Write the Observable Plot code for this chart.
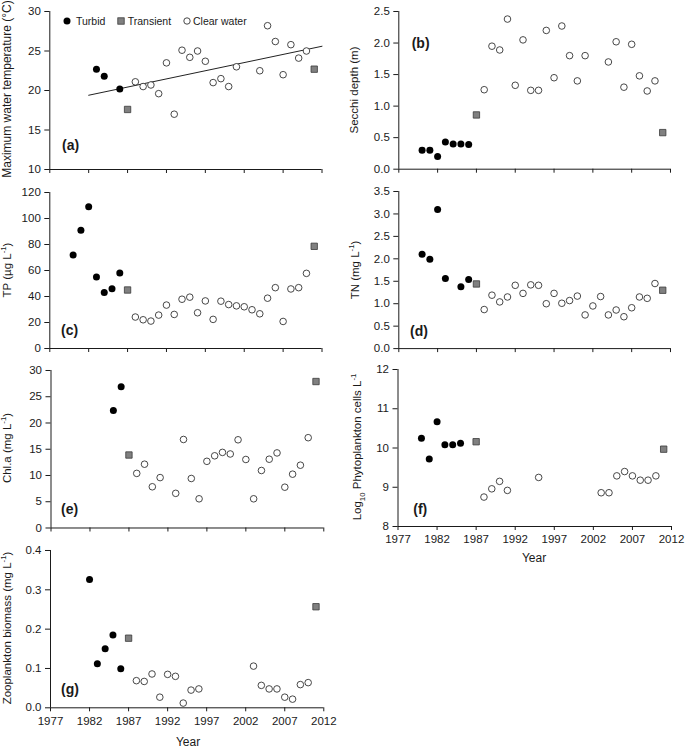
<!DOCTYPE html>
<html>
<head>
<meta charset="utf-8">
<script src="https://cdn.jsdelivr.net/npm/d3@7"></script>
<script src="https://cdn.jsdelivr.net/npm/@observablehq/plot@0.6"></script>
<style>
  body { margin: 0; background: #fff; }
  #root { position: relative; width: 685px; height: 750px; overflow: hidden;
          font-family: "Liberation Sans", Arial, sans-serif; color: #1a1a1a; }
  .panel { position: absolute; }
  .vlab { position: absolute; transform: translate(-50%, -50%) rotate(-90deg);
          white-space: nowrap; font-size: 11.5px; line-height: 1; }
  .vlab sup, .vlab sub { font-size: 0.68em; line-height: 0; }
  .letter { position: absolute; font-weight: bold; font-size: 14px; line-height: 1; white-space: nowrap; }
  .xlab { position: absolute; font-size: 12px; line-height: 1; transform: translateX(-50%); white-space: nowrap; }
  .leg { position: absolute; font-size: 10.5px; line-height: 1; white-space: nowrap; }
  .legsym { position: absolute; }
</style>
</head>
<body>
<div id="root"></div>
<script>
// ---------------- DATA ----------------
const statusNames = ["Turbid", "Transient", "Clear water"];
const transientYears = [1987, 2011];
const yearTicks = [1977, 1982, 1987, 1992, 1997, 2002, 2007, 2012];

// (a) Maximum water temperature (°C)
const tempYears = [1983,1984,1986,1987,1988,1989,1990,1991,1992,1993,1994,1995,1996,1997,1998,1999,2000,2001,2004,2005,2006,2007,2008,2009,2010,2011];
const tempValues = [22.7,21.8,20.2,17.6,21.1,20.5,20.7,19.6,23.5,17.0,25.1,24.2,25.0,23.7,21.0,21.5,20.5,23.0,22.5,28.2,26.2,22.0,25.8,24.1,25.0,22.7];
const tempTrendYears = [1982, 2012];
const tempTrendValues = [19.4, 25.6];

// (b) Secchi depth (m)
const secchiYears = [1980,1981,1982,1983,1984,1985,1986,1987,1988,1989,1990,1991,1992,1993,1994,1995,1996,1997,1998,1999,2000,2001,2004,2005,2006,2007,2008,2009,2010,2011];
const secchiValues = [0.30,0.30,0.20,0.43,0.40,0.40,0.39,0.86,1.26,1.95,1.89,2.38,1.33,2.05,1.25,1.25,2.20,1.45,2.27,1.80,1.40,1.80,1.70,2.02,1.30,1.98,1.48,1.24,1.40,0.58];

// (c) TP (µg L-1)
const tpYears = [1980,1981,1982,1983,1984,1985,1986,1987,1988,1989,1990,1991,1992,1993,1994,1995,1996,1997,1998,1999,2000,2001,2002,2003,2004,2005,2006,2007,2008,2009,2010,2011];
const tpValues = [72,91,109,55,43,46,58,45,24.2,22.1,21.1,25.7,33.4,26.2,37.9,39.5,27.5,36.6,22.4,36.4,33.8,32.8,32.1,29.8,26.7,38.7,46.8,20.8,45.8,46.8,57.8,78.6];

// (d) TN (mg L-1)
const tnYears = [1980,1981,1982,1983,1985,1986,1987,1988,1989,1990,1991,1992,1993,1994,1995,1996,1997,1998,1999,2000,2001,2002,2003,2004,2005,2006,2007,2008,2009,2010,2011];
const tnValues = [2.10,1.99,3.10,1.56,1.38,1.54,1.44,0.87,1.19,1.04,1.15,1.41,1.23,1.42,1.41,1.00,1.23,1.01,1.07,1.17,0.75,0.95,1.16,0.75,0.86,0.71,0.91,1.15,1.12,1.45,1.30];

// (e) Chl.a (mg L-1)
const chlYears = [1985,1986,1987,1988,1989,1990,1991,1993,1994,1995,1996,1997,1998,1999,2000,2001,2002,2003,2004,2005,2006,2007,2008,2009,2010,2011];
const chlValues = [22.4,26.9,13.9,10.4,12.15,7.85,9.6,6.6,16.86,9.43,5.56,12.7,13.75,14.4,14.1,16.8,13.05,5.56,10.95,13.1,14.3,7.77,10.25,11.96,17.2,27.9];

// (f) Log10 phytoplankton cells L-1
const phytoYears = [1980,1981,1982,1983,1984,1985,1987,1988,1989,1990,1991,1995,2003,2004,2005,2006,2007,2008,2009,2010,2011];
const phytoValues = [10.25,9.72,10.67,10.08,10.08,10.12,10.16,8.75,8.96,9.15,8.92,9.25,8.86,8.86,9.29,9.40,9.29,9.18,9.18,9.29,9.97];

// (g) Zooplankton biomass (mg L-1)
const zooYears = [1982,1983,1984,1985,1986,1987,1988,1989,1990,1991,1992,1993,1994,1995,1996,2003,2004,2005,2006,2007,2008,2009,2010,2011];
const zooValues = [0.326,0.112,0.150,0.185,0.099,0.177,0.069,0.067,0.086,0.027,0.085,0.080,0.012,0.045,0.048,0.106,0.057,0.048,0.048,0.027,0.022,0.059,0.064,0.257];

// ---------------- HELPERS ----------------
const fontFamily = '"Liberation Sans", Arial, sans-serif';
const axisColor = "#1a1a1a";
const root = document.getElementById("root");

function statusOf(year) {
  if (transientYears.includes(year)) return statusNames[1];
  return year < 1987 ? statusNames[0] : statusNames[2];
}
function rows(years, values) {
  return years.map((year, i) => ({year, value: values[i], status: statusOf(year)}));
}

function addPanel(cfg) {
  const {X0, X1, Y0, Y1, svgLeft, data, yDomain, yTicks, yFormat, showXLabels, trend, xPad} = cfg;
  const mt = 8, mr = 12, mb = showXLabels ? 30 : 8;
  const ml = X0 - svgLeft;
  const width = ml + (X1 - X0) + mr;
  const height = mt + (Y1 - Y0) + mb;
  const marks = [
    Plot.ruleX([1977], {stroke: axisColor, strokeWidth: 1}),
    Plot.ruleY([yDomain[0]], {stroke: axisColor, strokeWidth: 1})
  ];
  if (trend) marks.push(Plot.line(trend, {x: "year", y: "value", stroke: "#222", strokeWidth: 1}));
  marks.push(Plot.dot(data.filter(d => d.status === statusNames[2]),
    {x: "year", y: "value", r: 3.3, fill: "white", stroke: "#333", strokeWidth: 0.9}));
  marks.push(Plot.dot(data.filter(d => d.status === statusNames[1]),
    {x: "year", y: "value", r: 3.6, symbol: "square", fill: "#808080", stroke: "#3a3a3a", strokeWidth: 0.8}));
  marks.push(Plot.dot(data.filter(d => d.status === statusNames[0]),
    {x: "year", y: "value", r: 3.5, fill: "black", stroke: "none"}));
  const svg = Plot.plot({
    width, height,
    marginLeft: ml, marginRight: mr, marginTop: mt, marginBottom: mb,
    style: {fontFamily, fontSize: "11.5px", color: axisColor, background: "transparent", overflow: "visible"},
    x: {domain: [1977, 2012], ticks: yearTicks, tickSize: 4, tickPadding: xPad ?? 5,
        tickFormat: showXLabels ? d3.format("d") : () => "", label: null},
    y: {domain: yDomain, ticks: yTicks, tickSize: 5, tickPadding: 4, tickFormat: yFormat, label: null},
    marks
  });
  const wrap = document.createElement("div");
  wrap.className = "panel";
  wrap.style.left = svgLeft + "px";
  wrap.style.top = (Y0 - mt) + "px";
  wrap.appendChild(svg);
  root.appendChild(wrap);
}

function vlabel(html, cx, cy, size) {
  const d = document.createElement("div");
  d.className = "vlab"; d.innerHTML = html;
  d.style.left = cx + "px"; d.style.top = cy + "px";
  if (size) d.style.fontSize = size + "px";
  root.appendChild(d);
}
function letter(text, x, baseline) {
  const d = document.createElement("div");
  d.className = "letter"; d.textContent = text;
  d.style.left = x + "px"; d.style.top = (baseline - 11.6) + "px";
  root.appendChild(d);
}
function xlabel(text, cx, cy) {
  const d = document.createElement("div");
  d.className = "xlab"; d.textContent = text;
  d.style.left = cx + "px"; d.style.top = (cy - 6) + "px";
  root.appendChild(d);
}

const fmt1 = d3.format(".1f");
const fmt0 = d3.format("d");

// ---------------- PANELS ----------------
addPanel({X0: 49.3, X1: 321.5, Y0: 11, Y1: 169, svgLeft: 0,
  data: rows(tempYears, tempValues), yDomain: [10, 30], yTicks: [10, 15, 20, 25, 30], yFormat: fmt0,
  trend: rows(tempTrendYears, tempTrendValues)});
addPanel({X0: 398.3, X1: 670, Y0: 11, Y1: 168.7, svgLeft: 340,
  data: rows(secchiYears, secchiValues), yDomain: [0, 2.5], yTicks: [0, 0.5, 1, 1.5, 2, 2.5], yFormat: fmt1});
addPanel({X0: 49.3, X1: 321.5, Y0: 192, Y1: 348, svgLeft: 0,
  data: rows(tpYears, tpValues), yDomain: [0, 120], yTicks: [0, 20, 40, 60, 80, 100, 120], yFormat: fmt0});
addPanel({X0: 398.3, X1: 670, Y0: 191, Y1: 348.1, svgLeft: 340,
  data: rows(tnYears, tnValues), yDomain: [0, 3.5], yTicks: [0, 0.5, 1, 1.5, 2, 2.5, 3, 3.5], yFormat: fmt1});
addPanel({X0: 50.5, X1: 323.3, Y0: 370, Y1: 527.5, svgLeft: 0,
  data: rows(chlYears, chlValues), yDomain: [0, 30], yTicks: [0, 5, 10, 15, 20, 25, 30], yFormat: fmt0});
addPanel({X0: 397.5, X1: 671, Y0: 369, Y1: 526, svgLeft: 340,
  data: rows(phytoYears, phytoValues), yDomain: [8, 12], yTicks: [8, 9, 10, 11, 12], yFormat: fmt0,
  showXLabels: true, xPad: 4});
addPanel({X0: 50, X1: 323.3, Y0: 550, Y1: 707.3, svgLeft: 0,
  data: rows(zooYears, zooValues), yDomain: [0, 0.4], yTicks: [0, 0.1, 0.2, 0.3, 0.4], yFormat: fmt1,
  showXLabels: true, xPad: 5});

// axis titles
vlabel("Maximum water temperature (°C)", 7, 89, 12);
vlabel("Secchi depth (m)", 355, 90);
vlabel("TP (µg L<sup>-1</sup>)", 7.5, 270);
vlabel("TN (mg L<sup>-1</sup>)", 355.7, 270);
vlabel("Chl.a (mg L<sup>-1</sup>)", 7.5, 448);
vlabel("Log<sub>10</sub> Phytoplankton cells L<sup>-1</sup>", 358, 447);
vlabel("Zooplankton biomass (mg L<sup>-1</sup>)", 8.3, 628);
xlabel("Year", 534, 558);
xlabel("Year", 188, 742);

// panel letters
letter("(a)", 62, 150);
letter("(b)", 411.7, 48);
letter("(c)", 61, 335);
letter("(d)", 410, 336);
letter("(e)", 61, 514);
letter("(f)", 413.3, 514);
letter("(g)", 61, 694);

// legend
const legendItems = [
  {name: statusNames[0], sx: 66.7, tx: 76},
  {name: statusNames[1], sx: 121, tx: 127.7},
  {name: statusNames[2], sx: 186.7, tx: 193}
];
const legY = 20.7;
legendItems.forEach((it, i) => {
  const s = document.createElementNS("http://www.w3.org/2000/svg", "svg");
  s.setAttribute("width", 10); s.setAttribute("height", 10);
  s.setAttribute("class", "legsym");
  s.style.left = (it.sx - 5) + "px"; s.style.top = (legY - 5) + "px";
  let shape;
  if (i === 0) {
    shape = document.createElementNS("http://www.w3.org/2000/svg", "circle");
    shape.setAttribute("cx", 5); shape.setAttribute("cy", 5); shape.setAttribute("r", 3.5);
    shape.setAttribute("fill", "black");
  } else if (i === 1) {
    shape = document.createElementNS("http://www.w3.org/2000/svg", "rect");
    shape.setAttribute("x", 1.8); shape.setAttribute("y", 1.8); shape.setAttribute("width", 6.4); shape.setAttribute("height", 6.4);
    shape.setAttribute("fill", "#808080"); shape.setAttribute("stroke", "#3a3a3a"); shape.setAttribute("stroke-width", 0.8);
  } else {
    shape = document.createElementNS("http://www.w3.org/2000/svg", "circle");
    shape.setAttribute("cx", 5); shape.setAttribute("cy", 5); shape.setAttribute("r", 3.2);
    shape.setAttribute("fill", "white"); shape.setAttribute("stroke", "#333"); shape.setAttribute("stroke-width", 0.9);
  }
  s.appendChild(shape);
  root.appendChild(s);
  const t = document.createElement("div");
  t.className = "leg"; t.textContent = it.name;
  t.style.left = it.tx + "px"; t.style.top = (legY + 3.8 - 0.83 * 10.5) + "px";
  root.appendChild(t);
});
</script>
</body>
</html>
